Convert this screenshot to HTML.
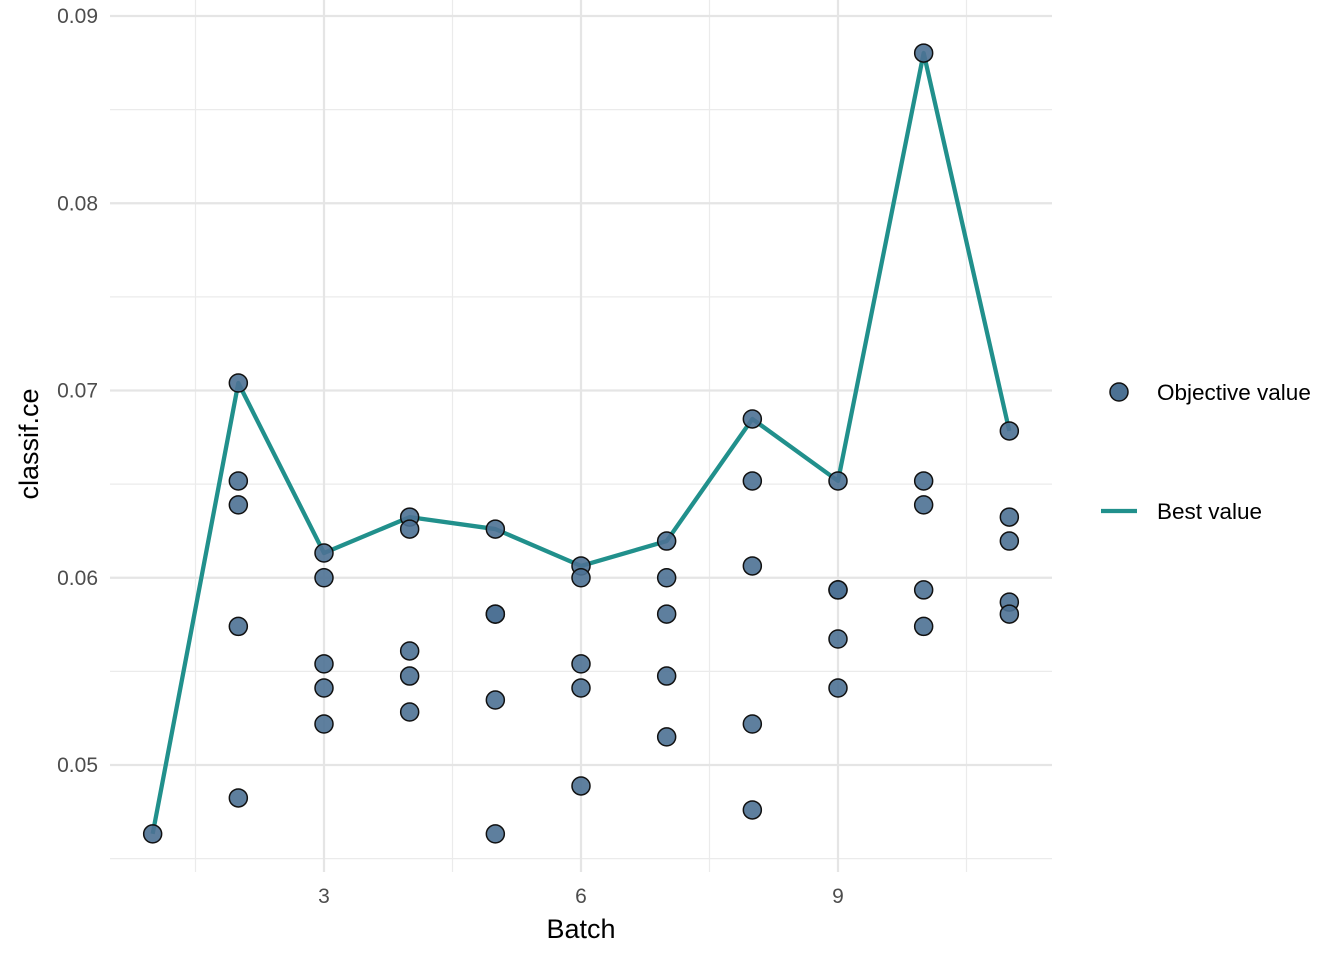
<!DOCTYPE html>
<html><head><meta charset="utf-8">
<style>
body{margin:0;background:#fff;}
svg{display:block;font-family:"Liberation Sans",sans-serif;}
</style></head>
<body>
<svg id="chart" width="1344" height="960">
<g id="grid"></g><g id="marks"></g><g id="axes"></g>
<g>
<circle cx="1119" cy="392" r="9" fill="#4c7193" stroke="#111" stroke-width="1.5"/>
<text x="1157" y="400" font-size="22.5" fill="#000">Objective value</text>
<line x1="1101" y1="511" x2="1137" y2="511" stroke="#21908c" stroke-width="4.3"/>
<text x="1157" y="519" font-size="22.5" fill="#000">Best value</text>
</g>
<text x="581" y="938" font-size="27" text-anchor="middle" fill="#000">Batch</text>
<text transform="translate(38,444) rotate(-90)" font-size="27" text-anchor="middle" fill="#000">classif.ce</text>
</svg>
<script>
const batches=[1,2,2,2,2,2,3,3,3,3,3,4,4,4,4,4,5,5,5,5,5,6,6,6,6,6,7,7,7,7,7,8,8,8,8,8,9,9,9,9,9,10,10,10,10,10,11,11,11,11,11];
const values=[0.04632,0.0704,0.06517,0.06389,0.0574,0.04824,0.06132,0.06,0.0554,0.05411,0.05219,0.06324,0.0626,0.05609,0.05475,0.05283,0.0626,0.05806,0.05806,0.05347,0.04632,0.06063,0.06,0.0554,0.05411,0.04888,0.06196,0.06,0.05806,0.05475,0.0515,0.06848,0.06517,0.06063,0.05219,0.0476,0.06517,0.05935,0.05935,0.05673,0.05411,0.08802,0.06517,0.06389,0.05935,0.0574,0.06784,0.06324,0.06196,0.0587,0.05806];
const bestBatches=[1,2,3,4,5,6,7,8,9,10,11];
const bestValues=[0.04632,0.0704,0.06132,0.06324,0.0626,0.06063,0.06196,0.06848,0.06517,0.08802,0.06784];
const xTicks=[3,6,9];
const yTicks=[0.05,0.06,0.07,0.08,0.09];
const xMinor=[1.5,4.5,7.5,10.5];
const yMinor=[0.045,0.055,0.065,0.075,0.085];
const X=v=>324+(v-3)*85.667;
const Y=v=>16+(0.09-v)*18725;
const NS="http://www.w3.org/2000/svg";
function mk(tag,attrs,parent){const e=document.createElementNS(NS,tag);for(const k in attrs)e.setAttribute(k,attrs[k]);document.getElementById(parent).appendChild(e);return e;}
const L=110,R=1052,T=0,B=872;
yMinor.forEach(v=>{const e=mk('line',{x1:L,x2:R,y1:Y(v),y2:Y(v),stroke:'#ebebeb','stroke-width':1.2},'grid');

});
xMinor.forEach(v=>{const e=mk('line',{x1:X(v),x2:X(v),y1:T,y2:B,stroke:'#ebebeb','stroke-width':1.2},'grid');

});
yTicks.forEach(v=>{const e=mk('line',{x1:L,x2:R,y1:Y(v),y2:Y(v),stroke:'#e5e5e5','stroke-width':2.2},'grid');


const t=mk('text',{x:98,y:Y(v)+7,'font-size':21,'text-anchor':'end',fill:'#4d4d4d'},'axes');t.textContent=v.toFixed(2);

});
xTicks.forEach(v=>{const e=mk('line',{x1:X(v),x2:X(v),y1:T,y2:B,stroke:'#e5e5e5','stroke-width':2.2},'grid');


const t=mk('text',{x:X(v),y:903,'font-size':21,'text-anchor':'middle',fill:'#4d4d4d'},'axes');t.textContent=v;

});
const pl=mk('polyline',{points:bestBatches.map((b,i)=>X(b)+','+Y(bestValues[i])).join(' '),fill:'none',stroke:'#21908c','stroke-width':4.3,'stroke-linejoin':'round'},'marks');


batches.forEach((b,i)=>{const c=mk('circle',{cx:X(b),cy:Y(values[i]),r:9,fill:'#4c7193','fill-opacity':0.9,stroke:'#111','stroke-width':1.5},'marks');

});
</script>
</body></html>
